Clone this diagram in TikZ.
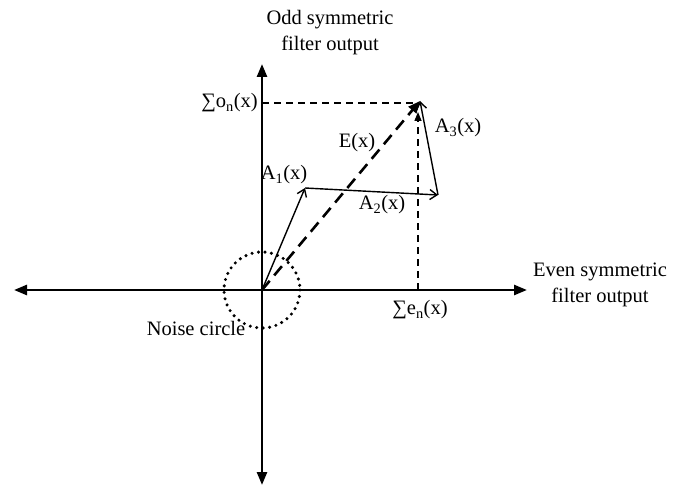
\documentclass[tikz,border=0pt]{standalone}
\usepackage{fontspec}
\setmainfont{Liberation Serif}
\usetikzlibrary{arrows.meta}
\tikzset{
	axis/.style={line width=2.6pt, {Triangle[length=13pt, width=10pt]}-{Triangle[length=13pt, width=10pt]}},
	vec/.style={line width=1.4pt, -{Straight Barb[length=7pt, width=10pt]}},
	proj/.style={line width=1.4pt, dashed, dash pattern=on 7pt off 5pt},
	lbl/.style={font=\fontsize{20.5}{26}\selectfont, inner sep=1pt, align=center}
}

\begin{document}
\begin{tikzpicture}[x=1pt, y=-1pt]
	\useasboundingbox (0, 0) rectangle (685, 486);
	% axes
	\coordinate (O) at (262, 290);
	\coordinate (xl) at (14, 290);
	\coordinate (xr) at (527, 290);
	\coordinate (yt) at (262, 64);
	\coordinate (yb) at (262, 485);
	\draw[axis] (xl) -- (xr);
	\draw[axis] (yb) -- (yt);
	\node[lbl] (odd) at (330, 33) {Odd symmetric\\filter output};
	\node[lbl] (even) at (600, 285) {Even symmetric\\filter output};

	% phasor chain
	\coordinate (p1) at (305, 188);
	\coordinate (p2) at (438, 195);
	\coordinate (E) at (420, 101);
	\coordinate (en) at (418, 290);
	\coordinate (on) at (262, 103);
	\coordinate (enT) at (418, 112);
	\coordinate (onT) at (414, 103);
	\draw[proj] (on) -- (onT);
	\draw[proj, -{Triangle[length=9pt, width=7pt]}] (en) -- (enT);
	\draw[line width=2.6pt, dashed, dash pattern=on 12pt off 7pt, -{Triangle[length=12pt, width=10pt]}] (O) -- (E);
	\draw[vec] (O) -- (p1);
	\draw[vec] (p1) -- (p2);
	\draw[vec] (p2) -- (E);

	% noise
	\draw[line width=3.4pt, line cap=round, dash pattern=on 0pt off 6.5pt] (O) circle (38);
	\node[lbl] (noise) at (196, 328) {Noise circle};

	% labels
	\node[lbl, anchor=east] (onlbl) at (259, 103) {∑o\textsubscript{n}(x)};
	\node[lbl] (enlbl) at (420, 310) {∑e\textsubscript{n}(x)};
	\node[lbl] (Elbl) at (357, 143) {E(x)};
	\node[lbl] (a1) at (284, 175) {A\textsubscript{1}(x)};
	\node[lbl] (a2) at (382, 205) {A\textsubscript{2}(x)};
	\node[lbl] (a3) at (458, 128) {A\textsubscript{3}(x)};
\end{tikzpicture}
\end{document}
